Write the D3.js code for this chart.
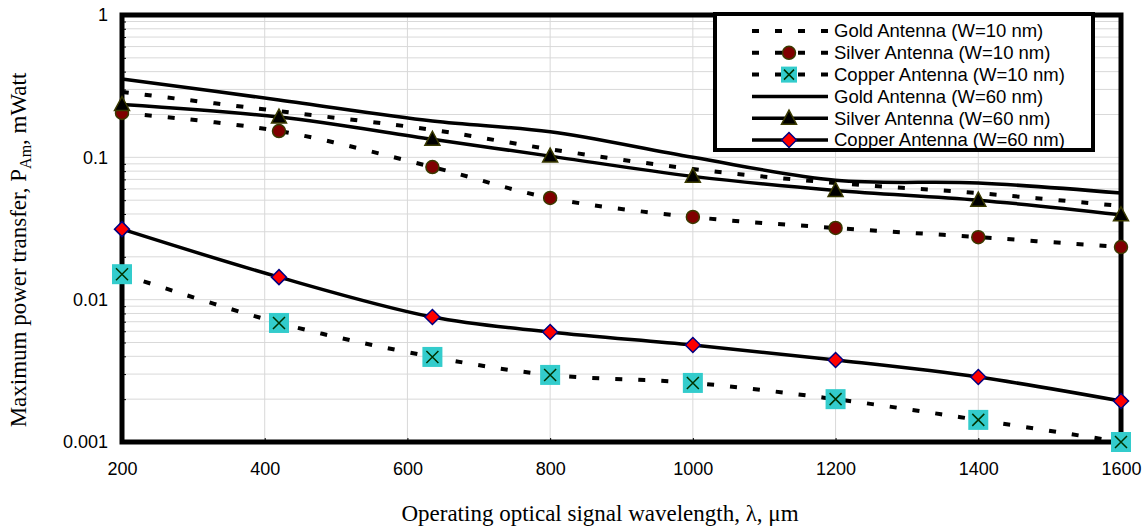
<!DOCTYPE html>
<html>
<head>
<meta charset="utf-8">
<script src="https://cdn.jsdelivr.net/npm/d3@7"></script>
<style>
  body { margin: 0; background: #fff; }
  svg { display: block; }
</style>
</head>
<body>
<script>
'use strict'

// wavelength (µm) of the data points
var wavelengths = [200, 420, 635, 800, 1000, 1200, 1400, 1600]

// maximum power transfer, mWatt
var goldW10 = [0.288, 0.211, 0.156, 0.114, 0.0828, 0.066, 0.056, 0.0455]
var silverW10 = [0.205, 0.153, 0.0855, 0.0518, 0.0381, 0.0319, 0.0275, 0.0234]
var copperW10 = [0.0151, 0.00686, 0.00396, 0.00296, 0.0026, 0.002, 0.00143, 0.001]
var goldW60 = [0.355, 0.253, 0.18, 0.151, 0.1, 0.069, 0.066, 0.0561]
var silverW60 = [0.235, 0.192, 0.134, 0.102, 0.0735, 0.0585, 0.05, 0.0395]
var copperW60 = [0.0313, 0.0144, 0.00755, 0.00593, 0.0048, 0.00377, 0.00286, 0.00194]

var seriesNames = [
  'Gold Antenna (W=10 nm)', 'Silver Antenna (W=10 nm)', 'Copper Antenna (W=10 nm)',
  'Gold Antenna (W=60 nm)', 'Silver Antenna (W=60 nm)', 'Copper Antenna (W=60 nm)'
]
var xTicks = [200, 400, 600, 800, 1000, 1200, 1400, 1600]
var yTicks = [0.001, 0.01, 0.1, 1]

var width = 1147
var height = 528
var plot = {left: 122, right: 1121, top: 15, bottom: 442}

var series = [
  {name: seriesNames[0], values: goldW10, dashed: true, marker: null},
  {name: seriesNames[1], values: silverW10, dashed: true, marker: 'circle'},
  {name: seriesNames[2], values: copperW10, dashed: true, marker: 'square'},
  {name: seriesNames[3], values: goldW60, dashed: false, marker: null},
  {name: seriesNames[4], values: silverW60, dashed: false, marker: 'triangle'},
  {name: seriesNames[5], values: copperW60, dashed: false, marker: 'diamond'}
]

var x = d3.scaleLinear().domain([200, 1600]).range([plot.left, plot.right])
var y = d3.scaleLog().domain([0.001, 1]).range([plot.bottom, plot.top])

var svg = d3.select('body').append('svg')
  .attr('width', width)
  .attr('height', height)

// gridlines
var minorValues = []
;[0.001, 0.01, 0.1].forEach(function (dec) {
  for (var k = 2; k <= 9; k++) minorValues.push(dec * k)
})
var grid = svg.append('g').attr('class', 'grid')
grid.selectAll('line.h')
  .data(minorValues.concat([0.01, 0.1]))
  .enter().append('line')
  .attr('class', 'h')
  .attr('x1', plot.left).attr('x2', plot.right)
  .attr('y1', d => y(d)).attr('y2', d => y(d))
  .style('stroke', '#d9d9d9')
  .style('stroke-width', 1)
grid.selectAll('line.v')
  .data(xTicks.slice(1, -1))
  .enter().append('line')
  .attr('class', 'v')
  .attr('x1', d => x(d)).attr('x2', d => x(d))
  .attr('y1', plot.top).attr('y2', plot.bottom)
  .style('stroke', '#d9d9d9')
  .style('stroke-width', 1)

// axes
var yAxis = svg.append('g')
  .attr('transform', `translate(${plot.left - 3}, 0)`)
  .call(d3.axisLeft(y).tickValues(yTicks).tickSize(0).tickPadding(11).tickFormat(d => String(d)))
var yMinor = svg.append('g')
  .attr('transform', `translate(${plot.left}, 0)`)
  .call(d3.axisRight(y).tickValues(minorValues).tickSize(4).tickFormat(''))
var xAxis = svg.append('g')
  .attr('transform', `translate(0, ${plot.bottom + 3})`)
  .call(d3.axisBottom(x).tickValues(xTicks).tickSize(0).tickPadding(17).tickFormat(d3.format('d')))
var xMinor = svg.append('g')
  .attr('transform', `translate(0, ${plot.bottom})`)
  .call(d3.axisTop(x).tickValues(xTicks).tickSize(4).tickFormat(''))
;[yAxis, yMinor, xAxis, xMinor].forEach(function (a) {
  a.select('.domain').remove()
  a.selectAll('text')
    .style('font-family', 'Liberation Sans, Arial, sans-serif')
    .style('font-size', '18px')
    .style('fill', '#000')
  a.selectAll('line').style('stroke', '#000').style('stroke-width', 1)
})

// frame
svg.append('rect')
  .attr('x', plot.left).attr('y', plot.top)
  .attr('width', plot.right - plot.left)
  .attr('height', plot.bottom - plot.top)
  .style('fill', 'none')
  .style('stroke', '#000')
  .style('stroke-width', 5)

// axis titles
svg.append('text')
  .attr('x', 600).attr('y', 521)
  .attr('text-anchor', 'middle')
  .style('font-family', 'Liberation Serif, Times New Roman, serif')
  .style('font-size', '23px')
  .text('Operating optical signal wavelength, λ, μm')

var yTitle = svg.append('text')
  .attr('transform', 'translate(26, 250) rotate(-90)')
  .attr('text-anchor', 'middle')
  .style('font-family', 'Liberation Serif, Times New Roman, serif')
  .style('font-size', '23px')
yTitle.append('tspan').text('Maximum power transfer, P')
yTitle.append('tspan').attr('dy', 5).style('font-size', '16px').text('Am')
yTitle.append('tspan').attr('dy', -5).text(', mWatt')

// markers
function drawMarker (g, type, cx, cy) {
  if (type === 'circle') {
    g.append('circle')
      .attr('cx', cx).attr('cy', cy).attr('r', 6.5)
      .style('fill', '#800000').style('stroke', '#3a3a00').style('stroke-width', 1.5)
  } else if (type === 'triangle') {
    g.append('path')
      .attr('d', `M${cx},${cy - 8}L${cx + 7.5},${cy + 6}L${cx - 7.5},${cy + 6}Z`)
      .style('fill', '#000').style('stroke', '#3a3a00').style('stroke-width', 1.5)
  } else if (type === 'diamond') {
    g.append('path')
      .attr('d', `M${cx},${cy - 7.5}L${cx + 7.5},${cy}L${cx},${cy + 7.5}L${cx - 7.5},${cy}Z`)
      .style('fill', '#ff0000').style('stroke', '#000080').style('stroke-width', 1.5)
  } else if (type === 'square') {
    g.append('rect')
      .attr('x', cx - 10).attr('y', cy - 10).attr('width', 20).attr('height', 20)
      .style('fill', '#33cccc')
    g.append('path')
      .attr('d', `M${cx - 6},${cy - 6}L${cx + 6},${cy + 6}M${cx + 6},${cy - 6}L${cx - 6},${cy + 6}`)
      .style('stroke', '#003300').style('stroke-width', 1.5).style('fill', 'none')
  }
}

var line = d3.line()
  .x(d => x(d[0]))
  .y(d => y(d[1]))
  .curve(d3.curveCatmullRom.alpha(0.5))

var seriesG = svg.append('g').attr('class', 'series')
series.forEach(function (s) {
  var pts = wavelengths.map((w, i) => [w, s.values[i]])
  seriesG.append('path')
    .datum(pts)
    .attr('d', line)
    .style('fill', 'none')
    .style('stroke', '#000')
    .style('stroke-width', s.dashed ? 4 : 3.5)
    .style('stroke-dasharray', s.dashed ? '7,16' : null)
})
series.forEach(function (s) {
  if (!s.marker) return
  var mg = seriesG.append('g')
  wavelengths.forEach(function (w, i) {
    drawMarker(mg, s.marker, x(w), y(s.values[i]))
  })
})

// legend
var legend = svg.append('g').attr('class', 'legend')
legend.append('rect')
  .attr('x', 715).attr('y', 14)
  .attr('width', 378).attr('height', 136)
  .style('fill', '#fff')
  .style('stroke', '#000')
  .style('stroke-width', 4)
var rowY = d3.scaleLinear().domain([0, 5]).range([31, 140])
series.forEach(function (s, i) {
  var ry = rowY(i)
  legend.append('line')
    .attr('x1', 752).attr('x2', 828)
    .attr('y1', ry).attr('y2', ry)
    .style('stroke', '#000')
    .style('stroke-width', s.dashed ? 4 : 3.5)
    .style('stroke-dasharray', s.dashed ? '7,16' : null)
  if (s.marker) {
    var mg = legend.append('g')
    if (s.marker === 'square') {
      mg.append('rect').attr('x', 781).attr('y', ry - 8).attr('width', 16).attr('height', 16).style('fill', '#33cccc')
      mg.append('path').attr('d', `M${784},${ry - 5}L${794},${ry + 5}M${794},${ry - 5}L${784},${ry + 5}`)
        .style('stroke', '#003300').style('stroke-width', 1.5)
    } else {
      drawMarker(mg, s.marker, 789, ry)
    }
  }
  legend.append('text')
    .attr('x', 834).attr('y', ry)
    .attr('dy', '0.35em')
    .style('font-family', 'Liberation Sans, Arial, sans-serif')
    .style('font-size', '18.5px')
    .text(s.name)
})
</script>
</body>
</html>
